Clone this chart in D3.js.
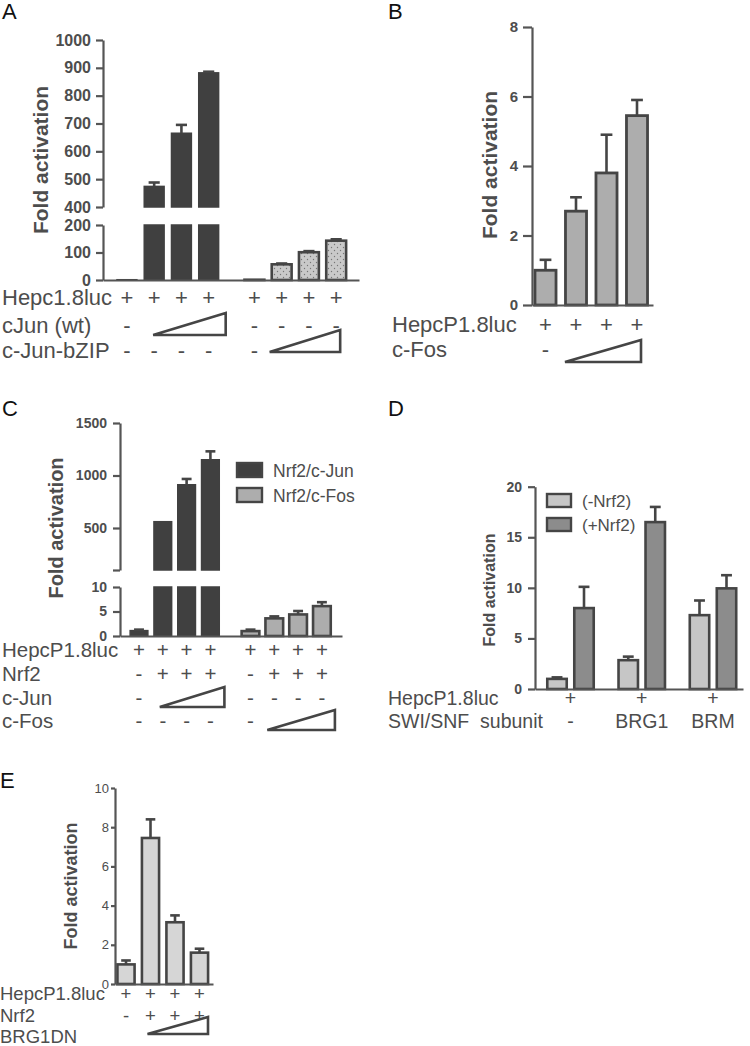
<!DOCTYPE html>
<html><head><meta charset="utf-8">
<script src="https://cdn.jsdelivr.net/npm/d3@7"></script>
<style>
body{margin:0;background:#fff}
svg{display:block}
</style></head><body>
<svg id="fig" width="750" height="1046"></svg>
<script>
// ================= DATA =================
// Panel A
const aGroups = ["cJun (wt)", "c-Jun-bZIP"];
const aBarIdx = [0, 1, 2, 3];
const aJunValues = [1, 474, 665, 882];
const aJunErrors = [0, 14, 30, 4];
const aZipValues = [1, 57, 101, 143];
const aZipErrors = [0, 3, 4, 5];
const aTicksUpper = [400, 500, 600, 700, 800, 900, 1000];
const aTicksLower = [0, 100, 200];
const aRowLabels = ["Hepc1.8luc", "cJun (wt)", "c-Jun-bZIP"];
const aRows = [
  ["+", "+", "+", "+", "+", "+", "+", "+"],
  ["-", "ramp", "ramp", "ramp", "-", "-", "-", "-"],
  ["-", "-", "-", "-", "-", "ramp", "ramp", "ramp"]
];
// Panel B
const bBarIdx = [0, 1, 2, 3];
const bValues = [1.0, 2.7, 3.8, 5.45];
const bErrors = [0.3, 0.4, 1.1, 0.45];
const bTicks = [0, 2, 4, 6, 8];
const bRowLabels = ["HepcP1.8luc", "c-Fos"];
const bRows = [
  ["+", "+", "+", "+"],
  ["-", "ramp", "ramp", "ramp"]
];
// Panel C
const cSeries = ["Nrf2/c-Jun", "Nrf2/c-Fos"];
const cBarIdx = [0, 1, 2, 3];
const cJunValues = [1.1, 560, 912, 1150];
const cJunErrors = [0.2, 0, 55, 80];
const cFosValues = [1.0, 3.6, 4.4, 6.1];
const cFosErrors = [0.3, 0.4, 0.7, 0.8];
const cTicksUpper = [100, 500, 1000, 1500];
const cTicksLower = [0, 5, 10];
const cRowLabels = ["HepcP1.8luc", "Nrf2", "c-Jun", "c-Fos"];
const cRows = [
  ["+", "+", "+", "+", "+", "+", "+", "+"],
  ["-", "+", "+", "+", "-", "+", "+", "+"],
  ["-", "ramp", "ramp", "ramp", "-", "-", "-", "-"],
  ["-", "-", "-", "-", "-", "ramp", "ramp", "ramp"]
];
// Panel D
const dGroups = ["-", "BRG1", "BRM"];
const dSeries = ["(-Nrf2)", "(+Nrf2)"];
const dMinusValues = [1.0, 2.85, 7.3];
const dMinusErrors = [0.15, 0.35, 1.45];
const dPlusValues = [8.0, 16.5, 9.95];
const dPlusErrors = [2.1, 1.5, 1.3];
const dTicks = [0, 5, 10, 15, 20];
const dRowLabels = ["HepcP1.8luc", "SWI/SNF  subunit"];
const dRows = [
  ["+", "+", "+"],
  dGroups
];
// Panel E
const eBarIdx = [0, 1, 2, 3];
const eValues = [1.0, 7.45, 3.15, 1.6];
const eErrors = [0.2, 0.95, 0.35, 0.2];
const eTicks = [0, 2, 4, 6, 8, 10];
const eRowLabels = ["HepcP1.8luc", "Nrf2", "BRG1DN"];
const eRows = [
  ["+", "+", "+", "+"],
  ["-", "+", "+", "+"],
  ["", "ramp", "ramp", "ramp"]
];

// ================= HELPERS =================
const FONT = '"Liberation Sans", Arial, Helvetica, sans-serif';
const AXC = "#555", TXT = "#4d4d4d", EDGE = "#454545", DARK = "#404040";
const svg = d3.select("#fig").attr("font-family", FONT);
const plain = v => String(v);

const defs = svg.append("defs");
const pat = defs.append("pattern").attr("id", "dots").attr("patternUnits", "userSpaceOnUse")
  .attr("width", 6).attr("height", 6);
pat.append("rect").attr("width", 6).attr("height", 6).attr("fill", "#c9c9c9");
pat.append("circle").attr("cx", 1.5).attr("cy", 1.5).attr("r", 0.7).attr("fill", "#777");
pat.append("circle").attr("cx", 4.5).attr("cy", 4.5).attr("r", 0.7).attr("fill", "#777");

function panelLetter(t, x, y) {
  svg.append("text").attr("x", x).attr("y", y).attr("font-size", 22).attr("fill", "#111").text(t);
}
function yTitle(x, y, size, weight) {
  svg.append("text").attr("transform", `translate(${x},${y}) rotate(-90)`)
    .attr("text-anchor", "middle").attr("font-size", size).attr("font-weight", weight)
    .attr("fill", TXT).text("Fold activation");
}
function yAxis(scale, x, ticks, o) {
  const ax = d3.axisLeft(scale).tickValues(ticks).tickSizeInner(o.tick).tickSizeOuter(0)
    .tickPadding(o.pad).tickFormat(o.fmt || plain);
  const a = svg.append("g").attr("transform", `translate(${x},0)`).call(ax);
  a.attr("font-family", FONT).attr("font-size", o.size).attr("font-weight", o.weight);
  a.select(".domain").attr("stroke", AXC).attr("stroke-width", 2.2);
  a.selectAll(".tick line").attr("stroke", AXC).attr("stroke-width", 2.2);
  a.selectAll(".tick text").attr("fill", TXT);
}
function xAxis(scale, y) {
  const a = svg.append("g").attr("transform", `translate(0,${y})`)
    .call(d3.axisBottom(scale).tickValues([]).tickSizeOuter(0));
  a.select(".domain").attr("stroke", AXC).attr("stroke-width", 2.2);
}
function bars(list, segs) {
  segs.forEach(s => {
    const vis = list.filter(d => d.v > s.lo);
    svg.append("g").selectAll("rect").data(vis).join("rect")
      .attr("x", d => d.cx - d.w / 2).attr("width", d => d.w)
      .attr("y", d => s.y(Math.min(d.v, s.hi)))
      .attr("height", d => s.y(s.lo) - s.y(Math.min(d.v, s.hi)))
      .attr("fill", d => d.fill).attr("stroke", d => d.stroke).attr("stroke-width", d => d.sw);
  });
  const eb = svg.append("g").attr("stroke", EDGE).attr("stroke-width", 2.6);
  list.filter(d => d.e > 0).forEach(d => {
    const s = segs.find(s => d.v >= s.lo && d.v <= s.hi) || segs[segs.length - 1];
    const y0 = s.y(d.v), y1 = s.y(Math.min(d.v + d.e, s.hi));
    eb.append("line").attr("x1", d.cx).attr("x2", d.cx).attr("y1", y0).attr("y2", y1);
    eb.append("line").attr("x1", d.cx - d.w * 0.28).attr("x2", d.cx + d.w * 0.28).attr("y1", y1).attr("y2", y1);
  });
}
function rows(labels, rowsData, centers, o) {
  labels.forEach((lab, r) => {
    const y = o.base[r];
    svg.append("text").attr("x", o.lx).attr("y", y).attr("font-size", o.size)
      .attr("fill", TXT).style("white-space", "pre").text(lab);
    const row = rowsData[r];
    svg.append("g").selectAll("text")
      .data(row.map((s, i) => ({ s, i })).filter(d => d.s !== "ramp" && d.s !== ""))
      .join("text").attr("x", d => centers[d.i]).attr("y", y).attr("text-anchor", "middle")
      .attr("font-size", o.size).attr("fill", TXT).text(d => d.s);
    const ramp = row.map((s, i) => s === "ramp" ? i : -1).filter(i => i >= 0);
    if (ramp.length && o.tri && o.tri[r]) {
      const t = o.tri[r];
      const xl = centers[ramp[0]] + t.l, xr = centers[ramp[ramp.length - 1]] + t.r, yb = y + t.dy;
      svg.append("polygon").attr("points", `${xl},${yb} ${xr},${yb} ${xr},${yb - t.h}`)
        .attr("fill", "none").attr("stroke", EDGE).attr("stroke-width", 2.6).attr("stroke-linejoin", "miter");
    }
  });
}
function legend(items, o) {
  items.forEach((it, i) => {
    const y = o.y + i * o.dy;
    svg.append("rect").attr("x", o.x).attr("y", y).attr("width", o.w).attr("height", o.h)
      .attr("fill", it.fill).attr("stroke", EDGE).attr("stroke-width", 2.4);
    svg.append("text").attr("x", o.x + o.w + o.gap).attr("y", y + o.h).attr("font-size", o.size)
      .attr("fill", TXT).text(it.label);
  });
}

// ================= PANEL A =================
{
  panelLetter("A", 2, 19);
  const x0 = d3.scaleBand().domain(aGroups).range([113.3, 349.8]).paddingInner(0.145);
  const x1 = d3.scaleBand().domain(aBarIdx).range([0, x0.bandwidth()]).paddingInner(0.27).paddingOuter(0.135);
  const yU = d3.scaleLinear().domain([400, 1000]).range([207, 40]);
  const yL = d3.scaleLinear().domain([0, 200]).range([280, 225]);
  const w = x1.bandwidth();
  const cx = (g, i) => x0(g) + x1(i) + w / 2;
  const list = aBarIdx.map(i => ({ cx: cx(aGroups[0], i), w, v: aJunValues[i], e: aJunErrors[i], fill: DARK, stroke: DARK, sw: 1.5 }))
    .concat(aBarIdx.map(i => ({ cx: cx(aGroups[1], i), w, v: aZipValues[i], e: aZipErrors[i], fill: "url(#dots)", stroke: EDGE, sw: 2.6 })));
  bars(list, [{ y: yL, lo: 0, hi: 200 }, { y: yU, lo: 400, hi: 1000 }]);
  yAxis(yU, 103, aTicksUpper, { tick: 7, pad: 5, size: 16, weight: "bold" });
  yAxis(yL, 103, aTicksLower, { tick: 7, pad: 5, size: 16, weight: "bold" });
  xAxis(d3.scaleLinear().range([103, 359]), 280);
  yTitle(48, 160, 21, "bold");
  const centers = list.map(d => d.cx);
  rows(aRowLabels, aRows, centers, {
    lx: 2, base: [305, 333, 358], size: 22,
    tri: [null, { l: -1, r: 17, dy: 2, h: 22 }, { l: -12, r: 4, dy: -6, h: 22 }]
  });
}

// ================= PANEL B =================
{
  panelLetter("B", 388, 19);
  const x = d3.scaleBand().domain(bBarIdx).range([530.25, 652.25]).paddingInner(0.31).paddingOuter(0.155);
  const y = d3.scaleLinear().domain([0, 8]).range([305, 27]);
  const w = x.bandwidth();
  const list = bBarIdx.map(i => ({ cx: x(i) + w / 2, w, v: bValues[i], e: bErrors[i], fill: "#adadad", stroke: EDGE, sw: 2.8 }));
  bars(list, [{ y, lo: 0, hi: 8 }]);
  yAxis(y, 532, bTicks, { tick: 9, pad: 5, size: 15, weight: "bold" });
  xAxis(d3.scaleLinear().range([532, 653]), 305);
  yTitle(497, 165, 21, "bold");
  rows(bRowLabels, bRows, list.map(d => d.cx), {
    lx: 392, base: [332, 357], size: 22,
    tri: [null, { l: -11, r: 4, dy: 5, h: 22 }]
  });
}

// ================= PANEL C =================
{
  panelLetter("C", 2, 416);
  const x0 = d3.scaleBand().domain(cSeries).range([127.1, 333.8]).paddingInner(0.146);
  const x1 = d3.scaleBand().domain(cBarIdx).range([0, x0.bandwidth()]).paddingInner(0.256).paddingOuter(0.128);
  const yU = d3.scaleLinear().domain([100, 1500]).range([570, 423]);
  const yL = d3.scaleLinear().domain([0, 10]).range([636, 587]);
  const w = x1.bandwidth();
  const cx = (g, i) => x0(g) + x1(i) + w / 2;
  const list = cBarIdx.map(i => ({ cx: cx(cSeries[0], i), w, v: cJunValues[i], e: cJunErrors[i], fill: DARK, stroke: DARK, sw: 1.5 }))
    .concat(cBarIdx.map(i => ({ cx: cx(cSeries[1], i), w, v: cFosValues[i], e: cFosErrors[i], fill: "#adadad", stroke: EDGE, sw: 2.6 })));
  bars(list, [{ y: yL, lo: 0, hi: 10 }, { y: yU, lo: 100, hi: 1500 }]);
  yAxis(yU, 120, cTicksUpper, { tick: 7, pad: 6, size: 14, weight: "bold", fmt: v => v === 100 ? "" : String(v) });
  yAxis(yL, 120, cTicksLower, { tick: 7, pad: 6, size: 14, weight: "bold" });
  xAxis(d3.scaleLinear().range([120, 342]), 636);
  yTitle(63, 528, 20, "bold");
  legend([{ label: cSeries[0], fill: DARK }, { label: cSeries[1], fill: "#adadad" }],
    { x: 237, y: 463, dy: 25, w: 25, h: 14, gap: 11, size: 17.5 });
  rows(cRowLabels, cRows, list.map(d => d.cx), {
    lx: 2, base: [657, 681, 705, 728], size: 20.5,
    tri: [null, null, { l: -3, r: 14, dy: 2, h: 20 }, { l: -7, r: 13, dy: 2, h: 20 }]
  });
}

// ================= PANEL D =================
{
  panelLetter("D", 388, 416);
  const x0 = d3.scaleBand().domain(dGroups).range([543.5, 740]).paddingInner(0.242);
  const x1 = d3.scaleBand().domain(dSeries).range([0, x0.bandwidth()]).paddingInner(0.28).paddingOuter(0.14);
  const y = d3.scaleLinear().domain([0, 20]).range([689, 486.7]);
  const w = x1.bandwidth();
  const list = [];
  dGroups.forEach((g, gi) => {
    list.push({ cx: x0(g) + x1(dSeries[0]) + w / 2, w, v: dMinusValues[gi], e: dMinusErrors[gi], fill: "#c6c6c6", stroke: EDGE, sw: 2.6 });
    list.push({ cx: x0(g) + x1(dSeries[1]) + w / 2, w, v: dPlusValues[gi], e: dPlusErrors[gi], fill: "#8c8c8c", stroke: EDGE, sw: 2.6 });
  });
  bars(list, [{ y, lo: 0, hi: 20 }]);
  yAxis(y, 535, dTicks, { tick: 7, pad: 6, size: 14, weight: "bold" });
  xAxis(d3.scaleLinear().range([535, 743]), 689);
  yTitle(495, 590, 16, "bold");
  legend([{ label: dSeries[0], fill: "#c6c6c6" }, { label: dSeries[1], fill: "#8c8c8c" }],
    { x: 547, y: 494, dy: 24, w: 24, h: 13, gap: 11, size: 17 });
  rows(dRowLabels, dRows, dGroups.map(g => x0(g) + x0.bandwidth() / 2), {
    lx: 388, base: [705, 728], size: 19.5
  });
}

// ================= PANEL E =================
{
  panelLetter("E", 0, 788);
  const x = d3.scaleBand().domain(eBarIdx).range([113.75, 211.75]).paddingInner(0.3).paddingOuter(0.15);
  const y = d3.scaleLinear().domain([0, 10]).range([984, 788]);
  const w = x.bandwidth();
  const list = eBarIdx.map(i => ({ cx: x(i) + w / 2, w, v: eValues[i], e: eErrors[i], fill: "#d6d6d6", stroke: EDGE, sw: 2.6 }));
  bars(list, [{ y, lo: 0, hi: 10 }]);
  yAxis(y, 115, eTicks, { tick: 4, pad: 2, size: 13, weight: "normal" });
  xAxis(d3.scaleLinear().range([115, 213]), 984);
  yTitle(77, 886, 18, "bold");
  rows(eRowLabels, eRows, list.map(d => d.cx), {
    lx: 0, base: [1000, 1022, 1043], size: 18.5,
    tri: [null, null, { l: -3, r: 8.5, dy: -9, h: 17 }]
  });
}
</script>
</body></html>
